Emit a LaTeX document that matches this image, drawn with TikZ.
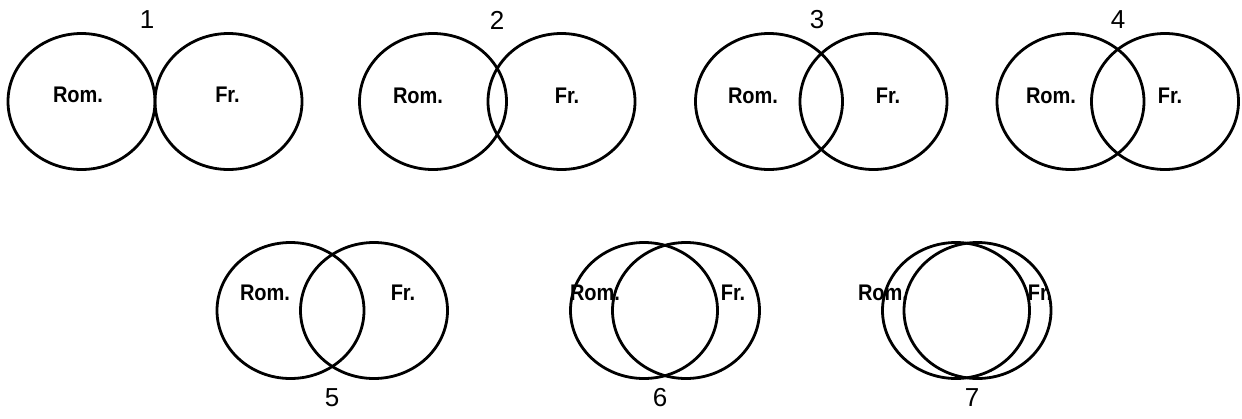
\documentclass[tikz,border=0pt]{standalone}
\usepackage{fontspec}
\setmainfont{Liberation Sans}
\usetikzlibrary{shapes.geometric}
\newcommand{\tallbold}[1]{\scalebox{1}[1.13]{#1}}
\begin{document}
\begin{tikzpicture}[x=1pt,y=-1pt,
  set/.style={draw=black,line width=2.8pt,ellipse,minimum width=147pt,minimum height=136pt,inner sep=0pt},
  lab/.style={inner sep=0pt,font=\fontsize{20}{21}\selectfont\bfseries},
  num/.style={inner sep=0pt,font=\fontsize{26}{27}\selectfont}]
\useasboundingbox (0,0) rectangle (1242,418);
% group 1
\node[set] (l1) at (81.5,101.5) {};
\node[set] (r1) at (228.5,101.5) {};
\node[lab] (rom1) at (78,95) {\tallbold{Rom.}};
\node[lab] (fr1) at (227.5,95) {\tallbold{Fr.}};
\node[num] (n1) at (147,20) {1};
% group 2
\node[set] (l2) at (433,101.5) {};
\node[set] (r2) at (561.5,101.5) {};
\node[lab] (rom2) at (418,96) {\tallbold{Rom.}};
\node[lab] (fr2) at (567,96) {\tallbold{Fr.}};
\node[num] (n2) at (497,20) {2};
% group 3
\node[set] (l3) at (769,101.5) {};
\node[set] (r3) at (873.5,101.5) {};
\node[lab] (rom3) at (753,96) {\tallbold{Rom.}};
\node[lab] (fr3) at (888,96) {\tallbold{Fr.}};
\node[num] (n3) at (817,20) {3};
% group 4
\node[set] (l4) at (1070.5,101.5) {};
\node[set] (r4) at (1165,101.5) {};
\node[lab] (rom4) at (1051,96) {\tallbold{Rom.}};
\node[lab] (fr4) at (1170,96) {\tallbold{Fr.}};
\node[num] (n4) at (1118,20) {4};
% group 5
\node[set] (l5) at (290.5,310.5) {};
\node[set] (r5) at (374,310.5) {};
\node[lab] (rom5) at (265,293) {\tallbold{Rom.}};
\node[lab] (fr5) at (403,293) {\tallbold{Fr.}};
\node[num] (n5) at (332,398) {5};
% group 6
\node[set] (l6) at (644,310.5) {};
\node[set] (r6) at (686,310.5) {};
\node[lab] (rom6) at (595,293) {\tallbold{Rom.}};
\node[lab] (fr6) at (733,293) {\tallbold{Fr.}};
\node[num] (n6) at (660,398) {6};
% group 7
\node[set] (l7) at (956,310.5) {};
\node[set] (r7) at (977.5,310.5) {};
\node[lab] (rom7) at (883,293) {\tallbold{Rom.}};
\node[lab] (fr7) at (1040,293) {\tallbold{Fr.}};
\node[num] (n7) at (972,398) {7};
\end{tikzpicture}
\end{document}
